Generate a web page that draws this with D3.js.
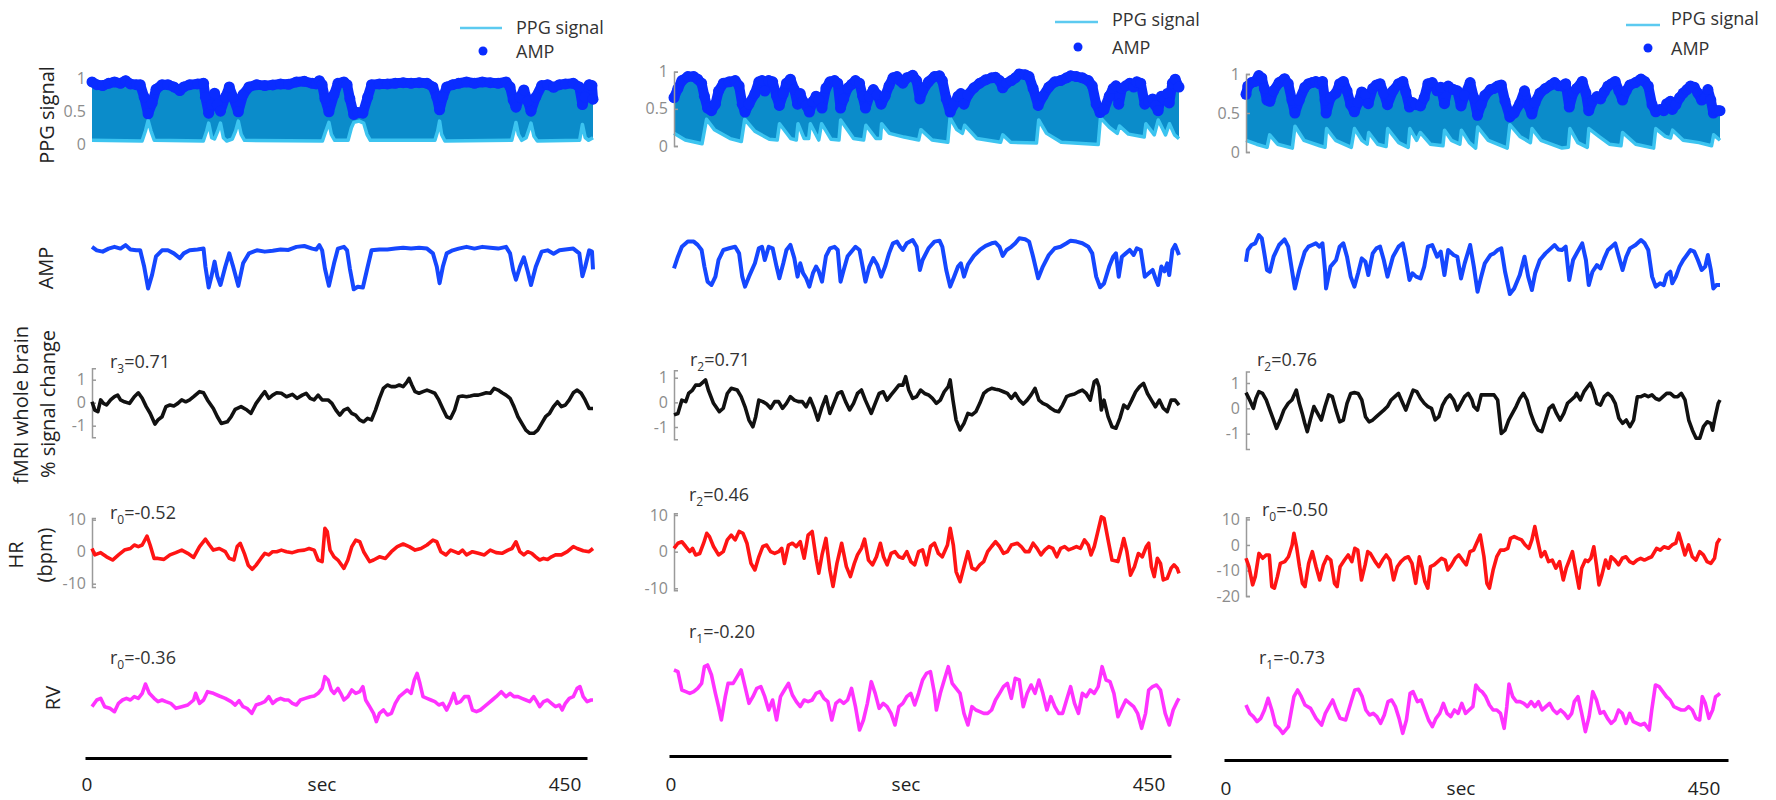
<!DOCTYPE html>
<html><head><meta charset="utf-8">
<script src="https://cdn.jsdelivr.net/npm/d3@7"></script>
<style>body{margin:0;background:#fff}svg{display:block}text{font-family:"Open Sans",sans-serif}</style>
</head><body>
<script>
// ---------- DATA (time in s, value) ----------
const timeTicks = [0, 450];
const ppgTicks = [0, 0.5, 1];
const fmriTicks = [-1, 0, 1];
const hrTicksA = [-10, 0, 10];
const hrTicksB = [-20, -10, 0, 10];
const legendLabels = ["PPG signal", "AMP"];
const rowLabels = ["PPG signal", "AMP", "fMRI whole brain", "% signal change", "HR", "(bpm)", "RV"];
const rSub = [["3","0","0"],["2","2","1"],["2","0","1"]];
const rVal = [["0.71","-0.52","-0.36"],["0.71","0.46","-0.20"],["0.76","-0.50","-0.73"]];

const amp1 = [[0,0.94],[4.3,0.90],[9.6,0.885],[14.9,0.92],[20.2,0.94],[25.6,0.92],[30.2,0.96],[34.5,0.91],[39.8,0.90],[43.3,0.90],[46.9,0.71],[50.4,0.46],[54,0.62],[57.5,0.83],[62.9,0.90],[68.2,0.90],[73.5,0.865],[78.9,0.81],[82.4,0.865],[87.7,0.90],[94.8,0.91],[100.2,0.92],[101.9,0.71],[104.8,0.47],[107.3,0.60],[110.1,0.77],[112.6,0.60],[115.4,0.50],[119.7,0.71],[123.3,0.865],[126.8,0.71],[131.4,0.49],[135.7,0.75],[141,0.865],[148.1,0.90],[155.2,0.885],[162.3,0.896],[169.4,0.91],[176.5,0.904],[183.6,0.94],[190.7,0.95],[197.8,0.92],[201.4,0.91],[204.2,0.96],[206.7,0.90],[209.2,0.69],[212.8,0.49],[217.4,0.75],[220.9,0.92],[226.3,0.94],[229.1,0.90],[231.6,0.69],[235.1,0.45],[238.7,0.48],[243.3,0.47],[247.6,0.71],[251.1,0.90],[258.2,0.91],[265.3,0.91],[272.4,0.92],[279.5,0.93],[286.6,0.92],[293.8,0.93],[300.9,0.92],[306.2,0.865],[309.7,0.71],[312.2,0.52],[315.1,0.71],[318.6,0.865],[324,0.90],[329.3,0.92],[336.4,0.94],[343.5,0.92],[350.6,0.94],[357.7,0.93],[364.8,0.92],[371.9,0.94],[375.5,0.865],[378.3,0.67],[380.8,0.56],[384.4,0.71],[387.9,0.82],[391.5,0.65],[394.3,0.50],[398.6,0.71],[403.9,0.885],[409.2,0.90],[414.6,0.86],[419.9,0.90],[425.2,0.91],[432.3,0.92],[437.7,0.865],[440.5,0.60],[443,0.71],[446.6,0.90],[449.1,0.885],[450,0.68]];
const ppgLow1 = [[0,0.06],[45,0.05],[48,0.2],[50.4,0.36],[53,0.2],[56,0.06],[100,0.05],[103,0.2],[104.8,0.32],[107.5,0.1],[110,0.08],[113,0.2],[115.4,0.32],[118,0.1],[121,0.05],[126,0.08],[129,0.2],[131.4,0.35],[134,0.15],[137,0.06],[207,0.05],[210,0.2],[212.8,0.33],[215,0.15],[218,0.06],[230,0.06],[233,0.25],[235.1,0.33],[240,0.35],[244,0.32],[247,0.15],[250,0.06],[308,0.06],[310.5,0.2],[312.2,0.35],[314,0.15],[317,0.05],[377,0.06],[379,0.2],[380.8,0.33],[383,0.15],[386,0.06],[390,0.1],[393,0.25],[394.3,0.32],[397,0.12],[400,0.05],[438,0.06],[440.5,0.3],[443,0.1],[446,0.06],[450,0.1]];
const fmri1 = [[0,0.04],[2.5,-0.32],[5.3,-0.39],[7.8,0.12],[10.3,-0.03],[13.1,-0.10],[16.7,0.12],[20.2,0.26],[23.1,0.33],[25.6,0.12],[29.1,0.04],[33.7,-0.03],[38,0.26],[41.6,0.43],[45.1,0.19],[48.7,-0.17],[52.2,-0.46],[56.5,-0.93],[59.3,-0.75],[62.9,-0.61],[66.4,-0.17],[70,-0.10],[73.5,-0.14],[77.1,-0.03],[80.6,0.12],[84.2,0.04],[87.7,0.12],[91.3,0.26],[96.6,0.48],[100.2,0.43],[103.7,0.12],[109,-0.25],[112.6,-0.61],[116.1,-0.90],[121.5,-0.83],[125,-0.61],[128.6,-0.29],[133.9,-0.17],[139.2,-0.32],[142.8,-0.46],[147.4,-0.03],[151.7,0.26],[155.2,0.48],[158.8,0.19],[162.3,0.33],[165.9,0.43],[170.1,0.41],[174.7,0.26],[180,0.36],[184.3,0.19],[188.9,0.33],[192.4,0.41],[196,0.19],[199.5,0.12],[203.1,0.33],[206.7,0.12],[212,0.12],[215.5,-0.03],[219.1,-0.32],[222.6,-0.54],[226.2,-0.32],[229.7,-0.25],[233.3,-0.46],[236.8,-0.54],[240.4,-0.75],[243.9,-0.83],[247.5,-0.68],[251,-0.75],[254.6,-0.32],[258.2,0.19],[261.7,0.62],[265.3,0.77],[268.8,0.70],[272.4,0.70],[276,0.77],[279.5,0.70],[283,0.91],[284.8,1.06],[287.3,0.77],[290.2,0.48],[293.7,0.41],[297.3,0.48],[300.9,0.55],[304.4,0.48],[307.9,0.41],[311.5,0.12],[315,-0.25],[318.6,-0.61],[322.1,-0.68],[325.7,-0.32],[329.2,0.26],[332.8,0.29],[336.4,0.26],[339.9,0.29],[343.5,0.33],[347,0.33],[350.6,0.38],[354.1,0.43],[357.7,0.41],[361.2,0.62],[364.8,0.55],[368.3,0.43],[371.9,0.33],[375.5,0.19],[379,-0.17],[382.6,-0.61],[386.1,-0.90],[389.7,-1.19],[393.2,-1.33],[396.8,-1.33],[400.3,-1.19],[403.9,-0.90],[407.4,-0.61],[411,-0.46],[414.5,-0.17],[418.1,0.04],[421.6,-0.17],[425.2,-0.10],[428.7,0.12],[432.3,0.43],[435.8,0.55],[439.4,0.41],[442.9,0.12],[446.5,-0.25],[450,-0.25]];
const hr1 = [[0,1.0],[2.5,-1.0],[7.8,-0.3],[13.1,-1.6],[18.5,-2.6],[23.8,-1.0],[29.1,0.5],[34.5,1.0],[38,2.1],[41.6,1.6],[45.1,2.1],[49.4,4.9],[52.2,2.1],[55.8,-2.1],[59.3,-2.1],[64.6,-2.4],[70,-1.0],[75.3,-0.3],[80.6,0.5],[86,-0.5],[91.3,-1.8],[96.6,1.6],[101.9,3.9],[105.5,2.1],[109,0.5],[114.4,1.0],[119.7,0],[123.3,-2.1],[127.5,-2.6],[130.4,1.6],[133.2,2.6],[136.8,-0.5],[140.3,-4.2],[143.9,-5.5],[147.4,-4.2],[151.7,-2.1],[155.2,-0.5],[158.8,-1.0],[162.3,0],[165.9,0],[170.1,0.5],[174.7,0],[180,-0.3],[185.4,0.3],[190.7,0.5],[195,1.0],[199.6,0.5],[203.1,-2.6],[206.7,-3.1],[209.2,7.3],[211.3,6.3],[213.8,0.5],[217.4,-1.6],[220.9,-2.6],[226.3,-5.2],[229.8,-2.6],[233.4,1.6],[236.9,3.6],[240.5,3.1],[244,0],[249.4,-3.1],[252.9,-2.6],[258.2,-1.6],[263.6,-2.1],[268.9,0],[274.2,1.6],[279.5,2.4],[284.9,1.6],[290.2,0.5],[295.5,1.0],[300.9,2.1],[306.2,3.6],[309.7,3.1],[313.3,0],[317.9,-1.0],[322.2,0.5],[325.7,0],[329.3,-0.5],[332.8,0.5],[336.4,-1.0],[341.7,0],[347,-0.5],[352.4,-1.0],[357.7,0.5],[363,-0.3],[368.3,-0.5],[373.7,0.5],[377.2,1.0],[380.8,3.1],[384.3,0],[387.9,-1.0],[391.4,0],[395,-0.5],[398.5,-1.6],[402.1,-2.6],[405.6,-2.1],[409.2,-2.4],[412.7,-1.6],[416.3,-1.0],[421.6,-1.0],[426.9,0],[432.3,1.6],[435.8,1.0],[441.2,0.3],[446.5,0],[450,1.0]];
const rv1 = [[0,-1.0],[4.3,0],[7.8,0.25],[11.4,-1.0],[16,-1.25],[20.2,-1.75],[23.8,-0.5],[27.4,0],[30.9,0.25],[34.5,0],[38,0.5],[41.6,0.25],[45.1,1.0],[48,2.4],[51.5,1.0],[55.8,0.25],[59.3,-0.25],[62.9,0],[66.4,-0.25],[70.7,-0.5],[75.3,-1.25],[80.6,-1.0],[86,-0.75],[91.3,0],[93.1,1.0],[96.6,-0.5],[100.2,0],[103.7,1.25],[109,1.0],[114.4,0.6],[119.7,0.25],[125,-0.25],[128.6,-0.75],[132.1,-0.1],[135.7,-1.0],[139.2,-1.25],[143.5,-2.0],[147.4,-0.75],[151.7,-0.5],[155.2,-0.25],[158.8,0.5],[162.3,-0.5],[165.9,0],[169.4,0.25],[173,0],[176.5,0],[180,-0.5],[183.6,-0.75],[187.2,0],[191.5,0.25],[196.1,0.5],[199.6,0.6],[203.1,1.0],[206.7,1.75],[209.2,3.5],[212.1,3.0],[214.9,1.5],[217.4,1.0],[220.9,1.75],[223.4,1.0],[226.3,0],[229.8,0.5],[233.4,1.5],[236.9,1.0],[240.5,1.25],[243.3,2.0],[245.8,0],[249.4,-1.0],[252.9,-2.0],[255.4,-3.25],[258.2,-2.0],[261.8,-1.5],[265.3,-2.25],[268.9,-2.0],[272.4,-0.5],[276,0.5],[279.5,1.0],[283.1,1.5],[286.6,1.0],[289.5,3.0],[292,4.0],[294.5,2.5],[297.3,0.5],[300.9,0.25],[304.4,0],[308,-0.25],[311.5,-0.75],[315.1,-0.5],[318.6,-1.5],[322.2,-0.25],[325,1.0],[327.5,-0.5],[331,-0.25],[334.6,0.5],[338.2,0.5],[341.7,-1.5],[345.3,-1.75],[348.8,-1.5],[352.4,-1.0],[355.9,-0.5],[359.5,0],[363,0.5],[367.6,1.25],[371.9,0.5],[375.5,1.0],[379,0.5],[382.6,0.5],[386.1,0.25],[389.7,0],[393.2,-0.25],[396.8,0.5],[399.6,-0.25],[402.1,-1.0],[405.6,-0.25],[409.2,0],[412.7,-0.5],[416.3,-1.0],[419.9,-0.75],[422.3,-1.5],[425.2,-0.5],[428.7,0.25],[432.3,0.5],[435.8,1.75],[438.3,2.0],[441.2,0.5],[444.7,-0.25],[448.3,0],[450,0]];

const amp2 = [[0,0.65],[3.5,0.775],[7,0.88],[12.3,0.935],[17.6,0.935],[21.1,0.90],[24.6,0.846],[27.1,0.67],[29.9,0.51],[33.4,0.475],[36.9,0.563],[39.7,0.74],[44,0.846],[49.2,0.864],[54.5,0.88],[58,0.81],[60.8,0.563],[63.3,0.457],[66.8,0.563],[72.1,0.705],[75.6,0.864],[78.4,0.88],[80.9,0.74],[84.4,0.88],[87.9,0.864],[91.4,0.67],[93.9,0.546],[97.4,0.705],[100.2,0.846],[103.7,0.90],[107.2,0.76],[110.1,0.563],[112.5,0.705],[115,0.60],[117.8,0.546],[120.6,0.457],[123.8,0.60],[126.6,0.67],[129,0.62],[131.9,0.51],[135.4,0.78],[138.9,0.864],[143.1,0.88],[145.9,0.846],[148.4,0.51],[151.2,0.634],[154.7,0.78],[158.2,0.83],[161.7,0.88],[165.3,0.846],[168.1,0.67],[170.6,0.51],[174.1,0.67],[177.6,0.76],[181.1,0.69],[184.6,0.563],[188.1,0.67],[191.6,0.81],[195.1,0.917],[198.7,0.935],[201.5,0.88],[203.9,0.846],[207.4,0.917],[212.7,0.952],[216.2,0.88],[219.1,0.634],[221.5,0.74],[226.8,0.864],[232.1,0.935],[236.6,0.945],[239.1,0.88],[242.6,0.634],[246.1,0.457],[249.6,0.563],[253.1,0.67],[255.6,0.705],[258.4,0.563],[261.9,0.69],[267.2,0.783],[272.5,0.846],[277.7,0.89],[283,0.917],[286.5,0.925],[290.1,0.88],[292.9,0.783],[296.4,0.846],[300.6,0.88],[304.1,0.917],[307.7,0.97],[312.9,0.96],[316.4,0.935],[320,0.775],[324.5,0.546],[328.7,0.67],[334,0.793],[339.3,0.864],[344.5,0.88],[349.8,0.917],[353.4,0.945],[358.6,0.935],[363.9,0.917],[369.2,0.88],[372.7,0.81],[376.2,0.563],[379.7,0.45],[383.2,0.49],[387.8,0.67],[391.3,0.775],[393.8,0.81],[396.3,0.563],[399.1,0.775],[402.6,0.81],[406.1,0.846],[409.6,0.793],[412.4,0.864],[415.9,0.846],[419.5,0.563],[423,0.599],[426.5,0.634],[429,0.546],[431.4,0.475],[434.3,0.67],[437.1,0.62],[439.5,0.705],[441.3,0.58],[444.1,0.846],[446.6,0.90],[450,0.793]];
const ppgLow2 = [[0,0.17],[10,0.08],[25,0.03],[29,0.36],[36,0.22],[50,0.1],[60,0.06],[63,0.36],[72,0.2],[85,0.09],[92,0.08],[94,0.3],[104,0.1],[109,0.08],[110.5,0.3],[116,0.1],[120,0.1],[121.5,0.3],[129,0.08],[131.5,0.3],[140,0.09],[147,0.08],[148.5,0.35],[160,0.1],[169,0.08],[171,0.28],[180,0.1],[184,0.1],[185,0.3],[192,0.17],[205,0.12],[218,0.08],[220,0.22],[230,0.08],[244,0.05],[246,0.38],[252,0.22],[257,0.17],[259,0.28],[270,0.1],[291,0.05],[293,0.15],[300,0.05],[323,0.04],[325,0.35],[332,0.17],[345,0.05],[378,0.02],[380,0.38],[388,0.25],[395,0.17],[397,0.27],[405,0.16],[419,0.12],[420.5,0.3],[428,0.15],[431.5,0.35],[438,0.15],[441.5,0.3],[446,0.15],[450,0.1]];
const fmri2 = [[0,-0.51],[3.5,-0.45],[7,0.09],[10.5,0.03],[13,0.36],[16.5,0.50],[19.3,0.70],[22.9,0.70],[26.4,0.84],[28.1,0.91],[30.6,0.50],[35.2,-0.04],[40.4,-0.38],[43.9,-0.24],[47.5,0.36],[51,0.57],[56.3,0.50],[59.8,0.23],[63.3,-0.18],[66.8,-0.72],[70.3,-0.99],[72.8,-0.58],[75.6,0.09],[79.1,0.03],[82.6,-0.07],[86.1,-0.24],[89.7,0.03],[93.2,0.03],[96.7,-0.24],[100.2,-0.04],[103.7,0.23],[107.2,0.09],[110.8,0.03],[114.3,0.03],[117.8,-0.18],[121.3,0.16],[124.8,-0.24],[128.3,-0.72],[131.9,-0.18],[135.4,0.23],[138.9,-0.45],[142.4,-0.04],[145.9,0.36],[149.4,0.43],[152.9,0.03],[156.5,-0.31],[160,-0.04],[163.5,0.36],[167,0.50],[170.5,0.09],[175.8,-0.45],[179.3,-0.04],[182.8,0.36],[186.4,0.43],[189.9,0.09],[193.4,0.30],[196.9,0.50],[200.4,0.70],[203.9,0.70],[206.4,1.04],[209.2,0.50],[212.7,0.16],[216.2,0.23],[219.8,0.50],[223.3,0.36],[226.8,0.30],[230.3,0.16],[233.8,-0.04],[237.3,0.09],[240.8,0.43],[244.4,0.64],[246.1,0.91],[248.6,0.09],[251.4,-0.72],[254.9,-1.12],[258.4,-0.85],[261.9,-0.45],[265.5,-0.51],[269,-0.38],[272.5,-0.04],[276,0.36],[279.5,0.50],[283,0.57],[286.5,0.53],[290.1,0.50],[293.6,0.43],[297.1,0.36],[300.6,0.16],[304.1,0.36],[307.7,0.09],[311.2,-0.07],[314.7,0.09],[318.2,0.30],[321.7,0.57],[325.2,0.09],[328.7,-0.04],[332.3,-0.11],[335.8,-0.24],[339.3,-0.34],[342.8,-0.38],[346.3,-0.11],[349.8,0.23],[353.4,0.30],[356.9,0.34],[360.4,0.43],[363.9,0.50],[367.4,0.36],[370.9,0.09],[374.5,0.84],[376.6,0.91],[378.7,0.64],[380.8,-0.31],[383.2,0.09],[386.8,-0.58],[390.3,-0.99],[393.8,-1.05],[397.3,-0.65],[400.8,-0.11],[404.3,-0.24],[407.9,0.09],[411.4,0.43],[414.9,0.64],[418.4,0.77],[421.9,0.36],[425.4,0.09],[429,-0.18],[432.5,0.09],[436,-0.24],[439.5,-0.38],[443,0.09],[446.5,0.09],[450,-0.11]];
const hr2 = [[0,0.9],[3.5,2.3],[7,2.7],[10.5,1.4],[14.1,0],[16.5,0.9],[19.3,-0.9],[22.9,-0.5],[26.4,2.3],[29.2,5.0],[31.6,4.1],[35.2,1.4],[39.7,-0.9],[43.9,0],[47.5,3.2],[51,4.5],[54.5,3.2],[58,5.5],[61.5,5.0],[65,2.3],[68.6,-3.2],[72.1,-5.0],[75.6,-1.4],[79.1,1.4],[82.6,1.8],[86.1,0],[89.7,-0.5],[93.2,0],[96,0.9],[98.4,-3.2],[102,1.8],[105.5,2.3],[109,1.4],[112.5,2.7],[116,-1.8],[119.5,4.5],[123.1,5.5],[126.6,-1.8],[129,-5.9],[131.9,-0.9],[135.4,3.6],[138.9,-5.0],[141.7,-9.5],[145.2,-3.2],[149.4,2.3],[153.6,-4.1],[157.2,-6.8],[160.7,-3.2],[163.5,-0.9],[167,0.9],[169.8,3.4],[173.3,-2.3],[176.9,-3.6],[180.4,-1.4],[183.9,2.3],[186.7,-1.4],[189.9,-3.6],[193.4,-0.5],[196.9,0],[200.4,-1.4],[203.9,-1.8],[207.4,0],[211,-2.7],[214.5,-3.6],[218,0],[221.5,0.5],[225,-3.6],[228.5,1.4],[232.1,2.3],[235.6,-0.5],[239.1,-1.4],[243.7,1.8],[246.1,6.4],[248.9,1.8],[251.4,-5.5],[254.9,-8.2],[258.4,-4.1],[261.9,0],[265.5,-4.5],[269,-5.0],[272.5,-3.6],[276,-2.7],[279.5,0],[283,1.4],[286.5,2.7],[290.1,1.4],[293.6,-0.5],[297.1,0],[300.6,1.8],[305.9,2.3],[309.4,1.4],[312.9,0],[316.4,0],[320,2.3],[323.5,0.9],[327,-0.9],[330.5,0.5],[334,1.4],[337.5,0.9],[341.1,-1.4],[344.6,0.9],[348.1,1.4],[351.6,0.5],[355.1,0.9],[358.6,1.4],[362.2,0.9],[365.7,3.2],[369.2,1.8],[371.6,-0.9],[374.5,1.4],[377.3,5.0],[380.8,9.5],[383.2,9.1],[386.8,3.2],[390.3,-2.3],[395.6,-2.7],[399.1,1.4],[400.8,3.6],[403.6,0],[406.8,-6.4],[410.3,-4.1],[413.8,-0.5],[417.3,-1.4],[420.9,1.4],[423,2.3],[425.4,-4.1],[427.9,-6.8],[430.7,-1.8],[433.5,-3.2],[436,-7.7],[439.5,-7.3],[443,-4.5],[445.5,-3.6],[448.3,-4.5],[450,-5.9]];
const rv2 = [[0,4.5],[3.5,4.25],[7,1.5],[10.5,1.25],[14.1,1.0],[17.6,1.25],[21.1,1.75],[24.6,2.5],[27.1,5.0],[29.9,5.25],[33.4,3.75],[36.9,1.0],[39.7,-1.0],[42.2,-3.0],[45.7,0.5],[48.2,2.5],[52.7,2.5],[56.3,3.5],[59.8,4.5],[63.3,2.0],[66.8,-0.5],[70.3,0.5],[73.8,1.75],[77.4,2.0],[80.9,0.5],[84.4,-1.5],[87.9,0],[91.4,-3.0],[94.9,0.5],[98.4,1.5],[102,2.5],[105.5,0.75],[109,-0.25],[112.5,-1.0],[116,0],[119.5,-0.25],[123.1,0],[126.6,1.0],[130.1,1.25],[133.6,0.25],[137.1,-0.25],[140.6,-3.0],[144.2,-0.5],[147.7,0],[151.2,-0.5],[154.7,0],[158.2,1.75],[161.7,-1.0],[165.3,-4.5],[168.8,-3.0],[172.3,-0.5],[175.8,2.75],[179.3,1.0],[182.8,-1.25],[186.4,-0.5],[189.9,-1.0],[193.4,-2.0],[196.9,-3.75],[200.4,-1.0],[203.9,-0.5],[207.4,0.5],[211,1.0],[214.5,-0.75],[218,1.0],[221.5,3.0],[225,4.0],[228.5,4.25],[232.1,1.0],[233.8,-1.5],[237.3,1.0],[240.8,3.0],[244.4,5.0],[247.9,2.5],[251.4,1.75],[254.9,1.0],[258.4,-2.0],[261.9,-3.75],[265.5,-1.0],[269,-1.5],[272.5,-1.75],[276,-2.0],[279.5,-2.0],[283,-1.5],[286.5,0],[290.1,1.0],[293.6,2.0],[297.1,2.5],[300.6,0.25],[304.1,3.25],[307.7,3.0],[311.2,-1.0],[314.7,1.0],[318.2,2.25],[321.7,1.0],[325.2,3.0],[328.7,1.0],[332.3,-1.5],[335.8,0.5],[339.3,-1.0],[342.8,-2.0],[346.3,-2.0],[349.8,0],[353.4,2.0],[356.9,-0.5],[360.4,-2.0],[363.9,1.0],[367.4,0.5],[370.9,1.5],[374.5,1.0],[378,2.0],[381.5,5.0],[385,3.0],[388.5,2.75],[392,1.0],[395.6,-2.5],[399.1,-1.25],[402.6,0],[406.1,-0.5],[409.6,-1.0],[413.1,-2.0],[416.7,-4.25],[420.2,-2.0],[423,1.5],[426.5,2.0],[430,2.25],[433.5,1.5],[437.7,-2.0],[441.3,-3.75],[444.8,-1.5],[448.3,-0.25],[450,0.25]];

const amp3 = [[0,0.74],[1.7,0.845],[5.2,0.89],[8.7,0.905],[12.2,0.98],[15,0.95],[17.4,0.815],[19.9,0.666],[22.7,0.65],[26.2,0.785],[31.4,0.89],[36.6,0.94],[40.1,0.875],[43.6,0.666],[46.4,0.50],[50.6,0.666],[55.8,0.83],[59.3,0.875],[62.8,0.89],[66.3,0.905],[69.8,0.875],[72.6,0.905],[75,0.666],[76,0.50],[80.2,0.696],[85.5,0.755],[88.9,0.875],[92.4,0.905],[95.9,0.785],[99.4,0.606],[102.9,0.516],[106.4,0.636],[109.9,0.77],[113.4,0.74],[116.1,0.62],[120.3,0.815],[123.8,0.86],[127.3,0.875],[130.8,0.755],[134.3,0.606],[139.5,0.785],[144.8,0.875],[148.9,0.905],[151.7,0.77],[155.2,0.576],[158,0.636],[161.5,0.606],[165.7,0.59],[169.2,0.696],[172.7,0.875],[176.8,0.89],[181.4,0.785],[184.9,0.83],[188.4,0.62],[191.9,0.845],[197.1,0.80],[200.6,0.785],[204.1,0.59],[207.6,0.725],[212.8,0.89],[216.3,0.696],[219.8,0.47],[223.3,0.606],[226.7,0.725],[232,0.80],[235.5,0.815],[238.9,0.845],[242.4,0.86],[245.9,0.652],[250.5,0.45],[254.6,0.50],[259.9,0.62],[264.4,0.785],[267.9,0.606],[271.4,0.486],[274.5,0.636],[279,0.755],[284.3,0.815],[289.5,0.86],[293,0.89],[296.5,0.85],[300,0.845],[303.5,0.875],[306.9,0.576],[310.5,0.755],[313.9,0.815],[319.2,0.905],[322.7,0.755],[325.4,0.53],[328.9,0.65],[333.1,0.71],[336.6,0.68],[340.1,0.77],[343.6,0.845],[347.1,0.875],[350.5,0.905],[354,0.785],[357.5,0.666],[361,0.785],[364.5,0.86],[369.8,0.89],[375,0.935],[378.5,0.905],[381.9,0.845],[385.5,0.606],[389,0.516],[393.1,0.546],[396.6,0.53],[399.4,0.62],[402.9,0.65],[404.7,0.546],[408.1,0.606],[411.6,0.696],[415.1,0.755],[418.6,0.80],[422,0.845],[425.6,0.83],[429,0.755],[432.6,0.666],[436,0.696],[438.5,0.80],[441.3,0.666],[443.7,0.50],[446.5,0.53],[448.3,0.53],[450,0.53]];
const ppgLow3 = [[0,0.15],[10,0.1],[20,0.06],[22.5,0.22],[30,0.1],[44,0.05],[46.5,0.33],[55,0.15],[70,0.08],[75,0.06],[76.5,0.3],[85,0.15],[100,0.06],[103,0.3],[110,0.15],[115,0.1],[116.5,0.25],[125,0.1],[133,0.07],[134.5,0.3],[145,0.12],[154,0.06],[155.5,0.3],[162,0.15],[165.5,0.25],[175,0.1],[187,0.08],[188.5,0.28],[195,0.15],[203,0.1],[204.5,0.28],[212,0.12],[218,0.05],[220,0.32],[230,0.15],[248,0.05],[250.5,0.35],[260,0.2],[270,0.12],[271.5,0.3],[280,0.15],[300,0.05],[306,0.06],[307.5,0.3],[315,0.12],[324,0.06],[325.5,0.3],[335,0.2],[345,0.1],[356,0.08],[357.5,0.25],[370,0.1],[387,0.05],[389,0.3],[398,0.2],[403,0.18],[405,0.28],[415,0.15],[430,0.12],[442,0.08],[444,0.22],[450,0.15]];
const fmri3 = [[0,0.62],[3.5,0.33],[7,0],[9.4,0.39],[12.2,0.66],[15.7,0.59],[19.2,0.33],[22.7,-0.07],[26.2,-0.46],[29,-0.79],[32.4,-0.46],[35.9,-0.07],[40.1,0.20],[43.6,0.33],[47.8,0.72],[50.6,0.20],[53.4,-0.20],[55.8,-0.59],[58.2,-0.92],[61,-0.46],[64.5,0.07],[68,-0.20],[71.5,-0.46],[75,0.07],[78.5,0.53],[82,0.46],[85.5,-0.07],[88.9,-0.53],[92.4,-0.46],[95.9,0.20],[99.4,0.59],[102.9,0.62],[106.4,0.59],[109.9,0.33],[113.4,-0.33],[116.8,-0.53],[120.3,-0.46],[123.8,-0.33],[127.3,-0.20],[130.8,-0.07],[134.3,0.07],[137.8,0.33],[141.3,0.46],[144.8,0.59],[148.2,0.26],[151.7,-0.07],[155.2,0.33],[158.7,0.72],[162.2,0.66],[165.7,0.39],[169.2,0.20],[172.7,0.07],[176.1,0],[179.6,-0.46],[183.1,-0.33],[186.6,0.13],[190.1,0.39],[193.6,0.53],[197.1,0.33],[200.6,-0.07],[204.1,0.20],[207.5,0.46],[211,0.59],[214.5,0.33],[216.3,0.07],[219.8,-0.07],[223.3,0.53],[228.5,0.53],[235.5,0.53],[238.9,0.33],[242.4,-0.99],[245.9,-0.86],[249.4,-0.46],[252.9,-0.20],[256.4,0.07],[259.9,0.39],[263.4,0.59],[266.8,0.33],[270.3,-0.20],[273.8,-0.59],[277.3,-0.86],[280.8,-0.92],[284.3,-0.46],[287.8,0],[291.3,0.13],[294.8,-0.20],[298.3,-0.46],[301.7,-0.20],[305.2,0.20],[308.7,0.33],[312.2,0.46],[313.9,0.59],[317.4,0.33],[320.9,0.66],[324.4,0.86],[326.8,0.99],[329.6,0.72],[333.1,0.20],[336.6,0.13],[340.1,0.46],[343.6,0.59],[347.1,0.46],[350.5,0.20],[354,-0.39],[357.5,-0.59],[361,-0.46],[364.5,-0.72],[368,-0.46],[371.5,0.46],[375,0.46],[378.5,0.53],[381.9,0.46],[385.4,0.53],[388.9,0.39],[392.4,0.33],[395.9,0.46],[399.4,0.59],[402.9,0.59],[406.4,0.46],[409.9,0.46],[413.3,0.59],[416.8,0.33],[420.3,-0.46],[423.8,-0.86],[427.3,-1.18],[430.8,-1.18],[434.3,-0.72],[437.8,-0.53],[441.3,-0.59],[443,-0.86],[444.8,-0.46],[448.3,0.20],[450,0.33]];
const hr3 = [[0,-5.2],[2.8,-8.5],[6.3,-15.6],[8.8,-12.4],[12.3,-3.3],[15.8,-5.2],[19.3,-3.9],[22.1,-3.9],[24.5,-16.3],[27,-16.9],[29.8,-12.4],[32.6,-7.2],[36.8,-6.5],[40.3,-4.6],[43.8,0],[45.5,4.6],[48,-0.7],[50.8,-8.5],[53.6,-15.0],[56,-16.3],[59.5,-7.2],[63,-2.6],[66.5,-8.5],[70,-13.7],[73.5,-7.8],[77,-4.6],[80.5,-5.9],[84,-15.0],[86.5,-16.3],[89.3,-8.5],[93.5,-5.9],[97,-3.9],[100.5,-6.5],[103.3,-1.3],[106.1,-2.0],[109.6,-13.7],[113.1,-7.8],[115.6,-2.6],[118,-3.3],[122.6,-6.5],[126.1,-8.5],[129.6,-5.9],[133.1,-3.9],[136.6,-5.9],[140.1,-13.7],[143.6,-8.5],[147.1,-6.5],[150.6,-5.2],[154.1,-4.6],[157.6,-7.2],[161.1,-15.0],[164.6,-4.6],[167,-8.5],[169.8,-14.3],[172.6,-16.9],[175.1,-8.5],[178.6,-7.8],[182.1,-6.5],[185.6,-5.2],[189.1,-5.9],[191.6,-9.8],[195.1,-7.8],[198.6,-5.2],[202.1,-3.9],[205.6,-5.9],[209.1,-7.8],[212.6,-2.6],[216.1,-2.0],[218.9,0.7],[222.4,3.9],[225.9,-4.6],[228.7,-15.0],[231.1,-16.9],[234.6,-9.8],[238.1,-4.6],[241.6,-2.0],[245.1,-2.0],[248.6,-1.3],[251.1,2.6],[254.6,3.3],[258.1,2.6],[261.6,2.0],[265.1,0],[268.6,-1.3],[271.4,2.0],[274.2,7.2],[276.7,2.0],[280.2,-4.6],[283.7,-2.6],[287.2,-6.5],[290.7,-5.9],[294.2,-9.1],[297.7,-6.5],[301.2,-13.7],[304,-9.1],[306.4,-6.5],[309.9,-2.6],[312.7,-9.1],[316.2,-16.9],[318.7,-9.1],[322.2,-5.9],[324.6,-6.5],[327.4,-5.2],[330.2,-0.7],[332.7,-7.8],[335.1,-15.6],[337.9,-11.7],[341.4,-5.9],[344.2,-9.1],[346.7,-4.6],[350.2,-5.9],[353.7,-7.8],[357.2,-5.2],[360.7,-4.6],[364.2,-6.5],[367.7,-7.2],[371.2,-5.9],[374.7,-5.2],[378.2,-5.9],[381.7,-5.2],[385.2,-4.6],[389.8,-1.3],[393.3,-2.0],[396.8,-0.7],[401,-1.3],[404.5,0],[408,0.7],[410.8,4.6],[413.2,1.3],[416.7,-3.9],[420.2,0],[423.7,-4.6],[427.2,-5.9],[430.7,-2.6],[434.2,-3.9],[437.7,-6.5],[441.3,-7.2],[444.8,-5.2],[447.2,0.7],[450,2.6]];
const rv3 = [[0,0.75],[3.5,-0.5],[7,-1.0],[10.5,-1.75],[14,-1.25],[17.5,0],[21,1.75],[24.5,0],[28,-2.25],[31.5,-2.75],[35,-3.5],[40.3,-2.5],[45.5,2.0],[49,3.0],[52.5,2.0],[56,0.75],[61.3,0.25],[66.5,-1.25],[71.8,-2.25],[75.3,-0.5],[78.8,0.5],[82.3,1.5],[85.8,0],[89.3,-1.25],[94.6,-1.5],[99.8,1.25],[103.3,3.0],[106.8,3.1],[110.3,2.0],[113.8,0],[117.3,-0.75],[120.8,-0.5],[124.3,-1.0],[127.8,-2.0],[131.3,-0.75],[134.8,1.25],[138.3,1.5],[141.8,0.5],[145.3,-1.25],[148.8,-3.5],[152.3,-1.5],[155.8,2.5],[158.6,2.75],[162.8,1.25],[166.3,1.5],[169.8,0],[173.3,-1.5],[176.9,-2.5],[180.4,-1.25],[183.9,-0.5],[187.4,1.0],[190.9,-0.5],[194.4,-1.0],[197.9,0],[201.4,-0.5],[204.9,1.0],[208.4,-0.5],[211.9,0],[215.4,0.5],[218.2,3.75],[221.7,3.0],[224.1,2.75],[227.6,2.0],[231.1,0.75],[234.6,0],[238.1,0],[241.6,-0.5],[245.1,-2.75],[247.6,0.5],[249.7,3.9],[253.2,2.0],[256.7,1.25],[260.2,1.25],[263.7,1.0],[267.2,0.5],[270.7,1.25],[274.2,0.5],[277.7,1.25],[281.2,0],[284.7,0.5],[288.2,1.0],[291.7,0],[295.2,-0.5],[298.7,0],[302.2,-0.5],[305.7,-1.25],[309.2,-0.5],[311.7,1.25],[315.2,2.0],[318.7,-0.5],[322.2,-3.25],[325.7,-1.0],[329.2,2.75],[332.7,1.5],[336.2,-0.5],[339.7,-0.25],[343.2,-1.25],[346.7,-2.0],[350.2,-1.5],[353.7,0],[357.2,-0.5],[360.7,-2.0],[364.2,-0.5],[367.7,-1.75],[371.2,-2.0],[374.7,-2.25],[378.2,-2.0],[382.8,-3.0],[385.2,0],[388.7,3.75],[392.2,3.5],[395.7,2.75],[399.2,2.0],[402.7,1.5],[406.2,0.5],[409.7,0.25],[413.2,0],[416.7,0],[420.2,0.5],[423.7,0],[427.2,-1.25],[430.7,-1.5],[433.2,2.0],[436,1.0],[439.5,-1.25],[443,0],[445.8,2.0],[448.2,2.25],[450,2.5]];

// ---------- LAYOUT ----------
const FONT = '"Open Sans", sans-serif';
const C_FILL = "#0b8cca", C_EDGE = "#3cc4f0", C_DOT = "#0a2cff", C_AMP = "#1547ff", C_HR = "#ff1414", C_RV = "#ff33ff";
const cols = [
  {data:{amp:amp1, low:ppgLow1, fmri:fmri1, hr:hr1, rv:rv1}, x:[92,593],
   ppg:[[0,144.3],[1,78]], ppgAxis:false, amp:[[0.45,289.3],[0.95,246]],
   fmri:[[-1,425.7],[1,379.7]], fmriExt:[-1.5,1.5], hr:[[-10,583.7],[10,519.7]], hrExt:[-11,10.5], hrTicks:hrTicksA,
   rv:[[0,700],[3,680]],
   legend:{lx:[460,502], ly:28, tx:516, ty:27, dx:483, dy:51, ay:51},
   rPos:[[110,368],[110,519],[110,664]],
   bottom:{y:758, x:[85,587], lab:[87,565], sec:322, ly:791}},
  {data:{amp:amp2, low:ppgLow2, fmri:fmri2, hr:hr2, rv:rv2}, x:[674,1179],
   ppg:[[0,146],[1,71.7]], ppgAxis:true, amp:[[0.45,287.3],[0.97,238.3]],
   fmri:[[-1,427],[1,377.7]], fmriExt:[-1.5,1.3], hr:[[-10,588.3],[10,515]], hrExt:[-10.5,10.5], hrTicks:hrTicksA,
   rv:[[0,700],[3,680]],
   legend:{lx:[1055,1098], ly:22, tx:1112, ty:19, dx:1078, dy:47, ay:47},
   rPos:[[690,366],[689,501],[689,638]],
   bottom:{y:756, x:[669,1171], lab:[671,1149], sec:906, ly:791}},
  {data:{amp:amp3, low:ppgLow3, fmri:fmri3, hr:hr3, rv:rv3}, x:[1246,1720],
   ppg:[[0,152],[1,74]], ppgAxis:true, amp:[[0.45,294],[0.98,235]],
   fmri:[[-1,433.7],[1,383]], fmriExt:[-1.6,1.45], hr:[[-20,596.1],[10,519.4]], hrExt:[-20,10.8], hrTicks:hrTicksB,
   rv:[[0,710],[3,690]],
   legend:{lx:[1626,1660], ly:25, tx:1671, ty:18, dx:1648, dy:48, ay:48},
   rPos:[[1257,366],[1262,516],[1259,664]],
   bottom:{y:760, x:[1224,1728], lab:[1226,1704], sec:1461, ly:795}}
];

const svg = d3.select("body").append("svg").attr("width",1776).attr("height",800);
const lin = a => d3.scaleLinear().domain([a[0][0],a[1][0]]).range([a[0][1],a[1][1]]);

function yAxis(g, scale, ext, ticks, showLine) {
  const s = scale.copy().domain(ext).range(ext.map(scale));
  const ax = d3.axisLeft(s).tickValues(ticks).tickSizeInner(showLine ? -4 : 0).tickSizeOuter(showLine ? -4 : 0)
    .tickPadding(6).tickFormat(d => String(d));
  g.call(ax);
  g.select(".domain").attr("stroke", showLine ? "#9a9a9a" : "none").attr("stroke-width", 1.5);
  g.selectAll(".tick line").attr("stroke", "#9a9a9a").attr("stroke-width", 1.5);
  g.selectAll(".tick text").attr("fill", "#8c8c8c").style("font-size", "16px").style("font-family", FONT);
  g.attr("font-family", null);
}

cols.forEach((c, ci) => {
  const D = c.data;
  const x = d3.scaleLinear().domain([0,450]).range(c.x);
  const g = svg.append("g");

  // PPG panel
  const yP = lin(c.ppg);
  const top = D.amp.map(([t,v]) => [x(t), yP(v - 0.04)]);
  const bot = D.low.map(([t,v]) => [x(t), yP(v)]).reverse();
  g.append("path").attr("d", d3.line()(top.concat(bot)) + "Z").attr("fill", C_FILL);
  g.append("path").attr("d", d3.line().x(d => x(d[0])).y(d => yP(d[1]))(D.low))
    .attr("fill","none").attr("stroke", C_EDGE).attr("stroke-width", 3.5).attr("stroke-linejoin","round");
  g.append("path").attr("d", d3.line().x(d => x(d[0])).y(d => yP(d[1]))(D.amp))
    .attr("fill","none").attr("stroke", C_DOT).attr("stroke-width", 10).attr("stroke-linejoin","round").attr("stroke-linecap","round");
  g.selectAll("circle.amp").data(D.amp).join("circle").attr("class","amp")
    .attr("cx", d => x(d[0])).attr("cy", d => yP(d[1])).attr("r", 5.5).attr("fill", C_DOT);
  yAxis(g.append("g").attr("transform", `translate(${c.x[0]},0)`), yP, [0,1], ppgTicks, c.ppgAxis);

  // legend
  const L = c.legend;
  g.append("line").attr("x1", L.lx[0]).attr("x2", L.lx[1]).attr("y1", L.ly).attr("y2", L.ly)
    .attr("stroke", "#5ccaf0").attr("stroke-width", 2.5);
  g.append("circle").attr("cx", L.dx).attr("cy", L.dy).attr("r", 4.5).attr("fill", C_DOT);
  g.append("text").attr("x", L.tx).attr("y", L.ty).attr("dominant-baseline","central")
    .style("font-size","18px").attr("fill","#333").text(legendLabels[0]);
  g.append("text").attr("x", L.tx).attr("y", L.ay).attr("dominant-baseline","central")
    .style("font-size","18px").attr("fill","#333").text(legendLabels[1]);

  // AMP row
  const yA = lin(c.amp);
  g.append("path").attr("d", d3.line().x(d => x(d[0])).y(d => yA(d[1]))(D.amp))
    .attr("fill","none").attr("stroke", C_AMP).attr("stroke-width", 4).attr("stroke-linejoin","round");

  // fMRI row
  const yF = lin(c.fmri);
  yAxis(g.append("g").attr("transform", `translate(${c.x[0]},0)`), yF, c.fmriExt, fmriTicks, true);
  g.append("path").attr("d", d3.line().x(d => x(d[0])).y(d => yF(d[1]))(D.fmri))
    .attr("fill","none").attr("stroke", "#111").attr("stroke-width", 3.6).attr("stroke-linejoin","round");

  // HR row
  const yH = lin(c.hr);
  yAxis(g.append("g").attr("transform", `translate(${c.x[0]},0)`), yH, c.hrExt, c.hrTicks, true);
  g.append("path").attr("d", d3.line().x(d => x(d[0])).y(d => yH(d[1]))(D.hr))
    .attr("fill","none").attr("stroke", C_HR).attr("stroke-width", 3.6).attr("stroke-linejoin","round");

  // RV row
  const yR = lin(c.rv);
  g.append("path").attr("d", d3.line().x(d => x(d[0])).y(d => yR(d[1]))(D.rv))
    .attr("fill","none").attr("stroke", C_RV).attr("stroke-width", 3.6).attr("stroke-linejoin","round");

  // r labels
  c.rPos.forEach((p, k) => {
    const t = g.append("text").attr("x", p[0]).attr("y", p[1]).style("font-size","18px").attr("fill","#333");
    t.append("tspan").text("r");
    t.append("tspan").attr("dy", 5).style("font-size","12px").text(rSub[ci][k]);
    t.append("tspan").attr("dy", -5).text("=" + rVal[ci][k]);
  });

  // bottom time axis
  const B = c.bottom;
  const xb = d3.scaleLinear().domain([0,450]).range(B.x);
  const bg = g.append("g").attr("transform", `translate(0,${B.y})`);
  bg.call(d3.axisBottom(xb).tickValues([]).tickSizeOuter(0));
  bg.select(".domain").attr("stroke","#000").attr("stroke-width",3.2);
  const xl = d3.scaleLinear().domain([0,450]).range(B.lab);
  g.selectAll("text.tt").data(timeTicks).join("text").attr("class","tt")
    .attr("x", d => xl(d)).attr("y", B.ly).attr("text-anchor","middle")
    .style("font-size","19px").attr("fill","#222").text(d => d);
  g.append("text").attr("x", B.sec).attr("y", B.ly).attr("text-anchor","middle")
    .style("font-size","19px").attr("fill","#222").text("sec");
});

// row labels (left)
const rowPos = [[46,115],[45,268],[20,405],[47,404],[15,555],[44,555],[52,698]];
rowLabels.forEach((s, i) => {
  svg.append("text").attr("transform", `translate(${rowPos[i][0]},${rowPos[i][1]}) rotate(-90)`)
    .attr("text-anchor","middle").attr("dominant-baseline","central")
    .style("font-size","20px").attr("fill","#222").text(s);
});
</script>
</body></html>
